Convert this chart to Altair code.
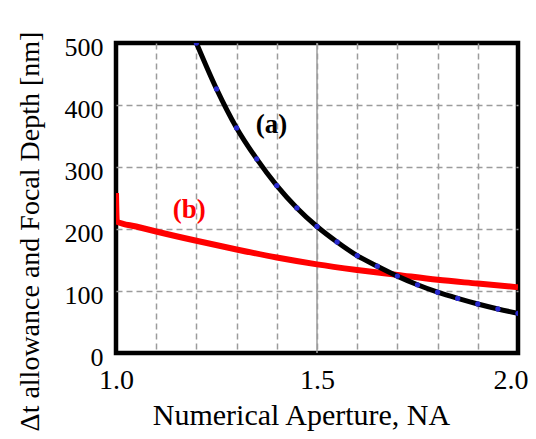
import altair as alt
import pandas as pd

# curve (a): focal depth [nm] vs numerical aperture
na_a = [1.20, 1.25, 1.30, 1.35, 1.40, 1.45, 1.50, 1.55, 1.60, 1.65, 1.70,
        1.75, 1.80, 1.85, 1.90, 1.95, 2.00]
depth_a = [500, 426, 363, 313, 270, 234, 204, 179, 157, 140, 124,
           110, 98, 88, 79, 71, 64]

# curve (b): delta-t allowance [nm] vs numerical aperture
na_b = [1.000, 1.002, 1.05, 1.10, 1.20, 1.30, 1.40, 1.50, 1.60,
        1.70, 1.80, 1.90, 2.00]
dt_b = [258, 212, 204, 196, 181, 167, 154, 143, 134,
        126, 118, 112, 106]

x_ticks = [1.0, 1.1, 1.2, 1.3, 1.4, 1.5, 1.6, 1.7, 1.8, 1.9, 2.0]
y_ticks = [0, 100, 200, 300, 400, 500]
solid_grid = [1.5]
labels_ab = ["(a)", "(b)"]

FONT = "Liberation Serif"
GRID = "#9c9c9c"

df_a = pd.DataFrame({"NA": na_a, "v": depth_a})
df_b = pd.DataFrame({"NA": na_b, "v": dt_b})
df_rule = pd.DataFrame({"NA": solid_grid})

xscale = alt.Scale(domain=[1.0, 2.0], nice=False, zero=False)
yscale = alt.Scale(domain=[0, 500], nice=False, zero=False)

xaxis = alt.Axis(
    values=x_ticks,
    labelExpr="(abs(datum.value-1)<0.001 || abs(datum.value-1.5)<0.001 || abs(datum.value-2)<0.001) ? format(datum.value, '.1f') : ''",
    title="Numerical Aperture, NA",
    grid=True, gridDash=[6, 4], gridColor=GRID, gridWidth=1.5,
    gridOpacity={"condition": {"test": "datum.value < 1.01 || datum.value > 1.99", "value": 0}, "value": 1},
    ticks=False, domain=False,
    labelFont=FONT, labelFontSize=28, labelColor="black",
    labelPadding=35, labelBaseline="alphabetic", labelFlush=False, labelOverlap=False,
    labelAlign={"condition": {"test": "datum.value > 1.99", "value": "right"}, "value": "center"},
    labelOffset={"condition": {"test": "datum.value > 1.99", "value": 10}, "value": 0},
    titleFont=FONT, titleFontSize=30, titleFontWeight="normal", titleColor="black",
    titleX=185, titleY=71, titleBaseline="alphabetic", titleAlign="center",
)
yaxis = alt.Axis(
    values=y_ticks,
    format="d",
    title="\u0394t allowance and Focal Depth [nm]",
    grid=True, gridDash=[6, 4], gridColor=GRID, gridWidth=1.5,
    gridOpacity={"condition": {"test": "datum.value < 1 || datum.value > 499", "value": 0}, "value": 1},
    ticks=False, domain=False,
    labelFont=FONT, labelFontSize=26, labelColor="black",
    labelPadding=13, labelBaseline="alphabetic", labelOffset=12, labelAlign="right",
    labelFlush=False, labelOverlap=False,
    titleFont=FONT, titleFontSize=28, titleFontWeight="normal", titleColor="black",
    titleAngle=270, titleX=-78, titleY=188, titleBaseline="alphabetic", titleAlign="center",
)

x_enc = alt.X("NA:Q", scale=xscale, axis=xaxis)
y_enc = alt.Y("v:Q", scale=yscale, axis=yaxis)

rule15 = alt.Chart(df_rule).mark_rule(color=GRID, strokeWidth=1.5).encode(x=x_enc)

line_b = alt.Chart(df_b).mark_line(color="#ff0000", strokeWidth=6, interpolate="monotone",
                                   clip=True).encode(x=x_enc, y=y_enc)
line_a = alt.Chart(df_a).mark_line(color="black", strokeWidth=5, interpolate="monotone",
                                   clip=True).encode(x=x_enc, y=y_enc)
pts_a = alt.Chart(df_a).mark_point(filled=True, color="#2a2ad0", size=28, opacity=1,
                                   clip=True).encode(x=x_enc, y=y_enc)

text_a = alt.Chart(pd.DataFrame({"NA": [1.387], "v": [368], "t": [labels_ab[0]]})).mark_text(
    font=FONT, fontSize=27, fontWeight="bold", color="black", baseline="middle", align="center"
).encode(x=x_enc, y=y_enc, text="t:N")
text_b = alt.Chart(pd.DataFrame({"NA": [1.182], "v": [231], "t": [labels_ab[1]]})).mark_text(
    font=FONT, fontSize=27, fontWeight="bold", color="#ff0000", baseline="middle", align="center"
).encode(x=x_enc, y=y_enc, text="t:N")

chart = alt.layer(rule15, line_b, line_a, pts_a, text_a, text_b).properties(
    width=402, height=310,
    autosize=alt.AutoSizeParams(type="none"),
    padding={"left": 108, "top": 35, "right": 10, "bottom": 78},
    background="white",
).configure_view(stroke="black", strokeWidth=4.5)

chart.save("out.html", embed_options={"renderer": "svg", "actions": False})
